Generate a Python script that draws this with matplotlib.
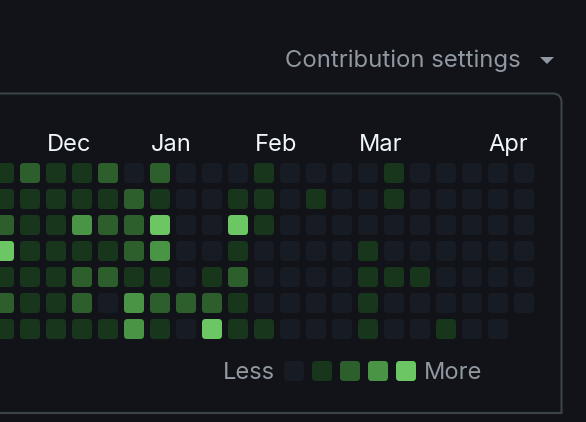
import matplotlib
matplotlib.use("Agg")
import matplotlib.pyplot as plt
from matplotlib.patches import FancyBboxPatch, Polygon
from matplotlib.path import Path
from matplotlib.patches import PathPatch

# ---- data ----
# contribution levels: rows = weekdays (Sun..Sat), columns = weeks (first column partially visible)
levels = [
    [1, 2, 1, 1, 2, 0, 2, 0, 0, 0, 1, 0, 0, 0, 0, 1, 0, 0, 0, 0, 0],
    [1, 1, 1, 1, 1, 2, 1, 0, 0, 1, 1, 0, 1, 0, 0, 1, 0, 0, 0, 0, 0],
    [2, 1, 1, 3, 2, 2, 4, 0, 0, 4, 1, 0, 0, 0, 0, 0, 0, 0, 0, 0, 0],
    [4, 1, 1, 1, 1, 2, 3, 0, 0, 1, 0, 0, 0, 0, 1, 0, 0, 0, 0, 0, 0],
    [1, 1, 1, 2, 2, 1, 1, 0, 1, 2, 0, 0, 0, 0, 1, 1, 1, 0, 0, 0, 0],
    [2, 1, 1, 2, 0, 3, 2, 2, 2, 1, 0, 0, 0, 0, 1, 0, 0, 0, 0, 0, 0],
    [1, 1, 1, 1, 1, 3, 1, 0, 4, 1, 1, 0, 0, 0, 1, 0, 0, 1, 0, 0, None],
]
month_labels = ["Dec", "Jan", "Feb", "Mar", "Apr"]
month_cols = [2, 6, 10, 14, 19]
legend_levels = [0, 1, 2, 3, 4]

palette = ["#171b23", "#18361b", "#2d5f2d", "#4a9446", "#6cc664"]
bg = "#111318"
border = "#3d434b"
muted = "#9198a1"
white = "#f0f6fc"

W, H = 586, 422
PITCH = 26.0
X0, Y0 = -6.0, 163.0
CELL = 20.0 / PITCH

def px(x, y):
    """pixel position -> data units (grid units)"""
    return (x - X0) / PITCH, (y - Y0) / PITCH

fig = plt.figure(figsize=(W / 100, H / 100), dpi=100, facecolor=bg)
ax = fig.add_axes([0, 0, 1, 1])
ax.set_facecolor(bg)
x_lo, y_lo = px(0, 0)
x_hi, y_hi = px(W, H)
ax.set_xlim(x_lo, x_hi)
ax.set_ylim(y_hi, y_lo)
ax.axis("off")

font = ["Inter", "DejaVu Sans"]

# cells
for r, row in enumerate(levels):
    for c, lv in enumerate(row):
        if lv is None:
            continue
        ax.add_patch(FancyBboxPatch((c, r), CELL, CELL,
                                    boxstyle="round,pad=0,rounding_size=0.14",
                                    fc=palette[lv], ec="none"))

# month labels
for lab, c in zip(month_labels, month_cols):
    ax.text(c + 0.02, px(0, 145)[1], lab, color=white, fontsize=17,
            family=font, ha="left", va="center")

# legend
lx0, ly0 = px(284, 361)
lstep = 28 / PITCH
for i, lv in enumerate(legend_levels):
    ax.add_patch(FancyBboxPatch((lx0 + i * lstep, ly0), CELL, CELL,
                                boxstyle="round,pad=0,rounding_size=0.14",
                                fc=palette[lv], ec="none"))
ax.text(*px(275, 373), "Less", color=muted, fontsize=17, family=font,
        ha="right", va="center")
ax.text(*px(424, 373), "More", color=muted, fontsize=17, family=font,
        ha="left", va="center")

# header
ax.text(*px(285, 61), "Contribution settings", color=muted, fontsize=17.2,
        family=font, ha="left", va="center")
ax.add_patch(Polygon([px(540, 57), px(554, 57), px(547, 64)], closed=True,
                     fc=muted, ec="none"))

# panel border (top edge, rounded top-right corner, right edge, bottom edge)
rad = 9
verts = [px(-10, 93.5), px(561.5 - rad, 93.5), px(561.5, 93.5), px(561.5, 93.5 + rad),
         px(561.5, 413), px(-10, 413)]
codes = [Path.MOVETO, Path.LINETO, Path.CURVE3, Path.CURVE3, Path.LINETO, Path.LINETO]
ax.add_patch(PathPatch(Path(verts, codes), fc="none", ec=border, lw=1.5))

fig.savefig("out.png", dpi=100, facecolor=bg)
